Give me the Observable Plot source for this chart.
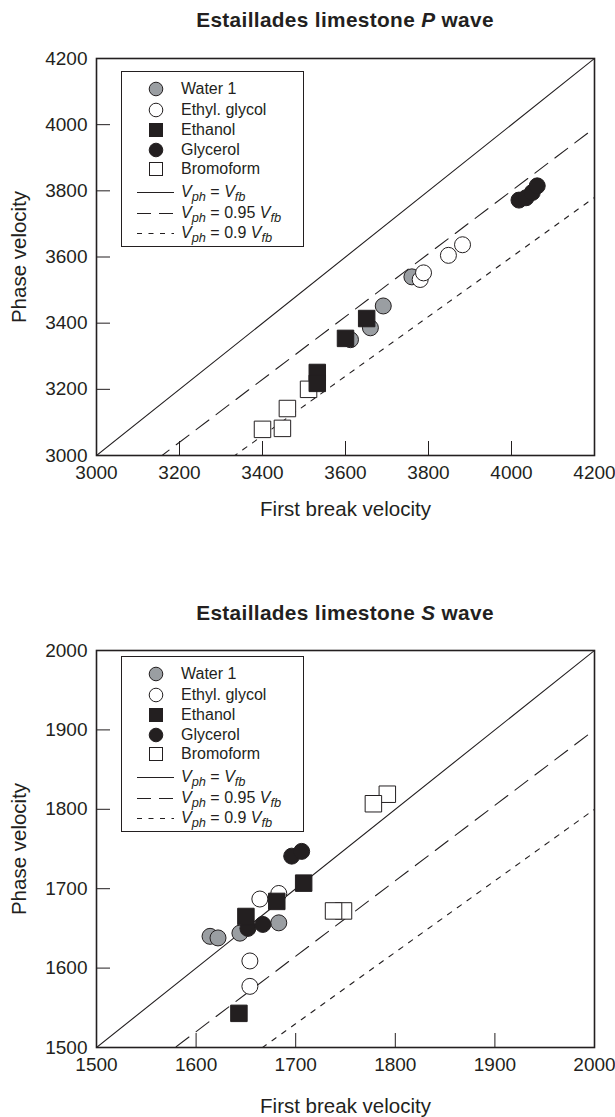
<!DOCTYPE html>
<html><head><meta charset="utf-8">
<script src="https://cdn.jsdelivr.net/npm/d3@7"></script>
<script src="https://cdn.jsdelivr.net/npm/@observablehq/plot@0.6"></script>
<style>
body{margin:0;background:#fff;font-family:"Liberation Sans",Arial,Helvetica,sans-serif;color:#231f20}
#wrap{position:relative;width:615px;height:1117px;overflow:hidden;background:#fff}
.title{position:absolute;left:96px;width:498px;text-align:center;font-weight:bold;font-size:20.8px;letter-spacing:0.35px;line-height:24px;white-space:nowrap}
.chart{position:absolute;left:0;overflow:visible}
.legend{position:absolute;left:121px;width:183px;height:176px;border:1.3px solid #231f20;background:#fff;box-sizing:border-box;font-size:16px}
.row{position:absolute;left:0;width:180px;height:20px}
.row svg{position:absolute;left:0;top:0}
.row span{position:absolute;left:59px;top:0;line-height:20px;white-space:nowrap}
.row sub{font-size:0.8em;vertical-align:-0.3em;line-height:0}
</style></head>
<body><div id="wrap"></div>
<script>
// ---- data ----
const pTicks = [3000, 3200, 3400, 3600, 3800, 4000, 4200];
const sTicks = [1500, 1600, 1700, 1800, 1900, 2000];
const fluids = ["Water 1", "Ethyl. glycol", "Ethanol", "Glycerol", "Bromoform"];
// P wave [first break velocity, phase velocity]
const pWater1 = [[3612, 3350], [3660, 3386], [3691, 3452], [3760, 3540]];
const pEthylGlycol = [[3780, 3532], [3788, 3552], [3848, 3605], [3882, 3637]];
const pEthanol = [[3651, 3414], [3600, 3354], [3532, 3251], [3532, 3218]];
const pGlycerol = [[4018, 3772], [4035, 3779], [4050, 3795], [4062, 3815]];
const pBromoform = [[3511, 3200], [3460, 3142], [3400, 3079], [3448, 3082]];
// S wave
const sWater1 = [[1614, 1640], [1622, 1638], [1644, 1644], [1683, 1657]];
const sEthylGlycol = [[1664, 1687], [1683, 1694], [1654, 1609], [1654, 1577]];
const sEthanol = [[1708, 1707], [1681, 1684], [1650, 1665], [1643, 1543]];
const sGlycerol = [[1696, 1741], [1706, 1747], [1652, 1650], [1667, 1655]];
const sBromoform = [[1792, 1819], [1778, 1807], [1748, 1672], [1738, 1672]];
const ratios = [1, 0.95, 0.9];

// ---- styles ----
const ink = "#231f20", gray = "#9a9ea2";
const fluidStyle = {
  "Water 1": {symbol: "circle", fill: gray},
  "Ethyl. glycol": {symbol: "circle", fill: "#fff"},
  "Ethanol": {symbol: "square", fill: ink},
  "Glycerol": {symbol: "circle", fill: ink},
  "Bromoform": {symbol: "square", fill: "#fff"}
};
const dashes = [null, "16,9", "5,7"];
const drawOrder = ["Water 1", "Ethyl. glycol", "Bromoform", "Glycerol", "Ethanol"];

const wrap = document.getElementById("wrap");

function addTitle(top, letter) {
  const d = document.createElement("div");
  d.className = "title";
  d.style.top = top + "px";
  d.innerHTML = `Estaillades limestone <i>${letter}</i> wave`;
  wrap.appendChild(d);
}

function addChart({top, domain, ticks, data, mb, xLabelOff}) {
  const marks = [];
  ratios.forEach((k, i) => {
    const pts = domain.map(v => ({x: v, y: k * v}));
    marks.push(Plot.line(pts, {x: "x", y: "y", stroke: ink, strokeWidth: 1.1, strokeDasharray: dashes[i], clip: true}));
  });
  drawOrder.forEach(f => {
    const st = fluidStyle[f];
    marks.push(Plot.dot(data[f], {x: d => d[0], y: d => d[1], symbol: st.symbol, r: st.symbol === "square" ? 9.3 : 8, fill: st.fill, stroke: ink, strokeWidth: 1}));
  });
  marks.push(Plot.frame({stroke: ink, strokeWidth: 1.6}));
  marks.push(Plot.axisX({ticks, tickSize: -14, tickPadding: 24, fontSize: 19, stroke: ink, fill: ink, tickFormat: d => String(d), label: null}));
  marks.push(Plot.axisY({ticks, tickSize: -14, tickPadding: 23, fontSize: 19, stroke: ink, fill: ink, tickFormat: d => String(d), label: null}));
  marks.push(Plot.axisX({ticks: [], fontSize: 20.5, fill: ink,
    label: "First break velocity", labelAnchor: "center", labelOffset: xLabelOff, labelArrow: "none"}));
  marks.push(Plot.axisY({ticks: [], fontSize: 20.5, fill: ink,
    label: "Phase velocity", labelAnchor: "center", labelOffset: 85, labelArrow: "none"}));
  const svg = Plot.plot({
    width: 615, height: 18 + 397 + mb,
    marginTop: 18, marginLeft: 96, marginRight: 21, marginBottom: mb,
    style: {fontFamily: '"Liberation Sans", Arial, Helvetica, sans-serif', color: ink, background: "transparent", fontSize: "20.5px"},
    x: {domain}, y: {domain},
    marks
  });
  svg.classList.add("chart");
  svg.style.top = top + "px";
  wrap.appendChild(svg);
}

function addLegend(top) {
  const box = document.createElement("div");
  box.className = "legend";
  box.style.top = top + "px";
  const rowsY = [17, 38, 58, 78, 97, 120, 141, 161];
  fluids.forEach((f, i) => {
    const st = fluidStyle[f];
    const r = document.createElement("div");
    r.className = "row";
    r.style.top = (rowsY[i] - 10) + "px";
    const sym = st.symbol === "circle"
      ? `<circle cx="34" cy="10" r="6.8" fill="${st.fill}" stroke="${ink}" stroke-width="1"/>`
      : `<rect x="27.5" y="3.5" width="13" height="13" fill="${st.fill}" stroke="${ink}" stroke-width="1"/>`;
    r.innerHTML = `<svg width="60" height="20">${sym}</svg><span>${f}</span>`;
    box.appendChild(r);
  });
  ratios.forEach((k, i) => {
    const r = document.createElement("div");
    r.className = "row";
    r.style.top = (rowsY[5 + i] - 10) + "px";
    const da = i === 1 ? ' stroke-dasharray="14,8"' : i === 2 ? ' stroke-dasharray="5,6.5"' : "";
    r.innerHTML = `<svg width="60" height="20"><line x1="15" x2="52" y1="10.5" y2="10.5" stroke="${ink}" stroke-width="1.1"${da}/></svg><span><i>V<sub>ph</sub></i>${i === 0 ? " = " : i === 1 ? " = 0.95 " : " = 0.9 "}<i>V<sub>fb</sub></i></span>`;
    box.appendChild(r);
  });
  wrap.appendChild(box);
}

addTitle(8, "P");
addChart({top: 40, domain: [3000, 4200], ticks: pTicks, mb: 75, xLabelOff: 60,
  data: {"Water 1": pWater1, "Ethyl. glycol": pEthylGlycol, "Ethanol": pEthanol, "Glycerol": pGlycerol, "Bromoform": pBromoform}});
addLegend(71);
addTitle(601, "S");
addChart({top: 632, domain: [1500, 2000], ticks: sTicks, mb: 71, xLabelOff: 65,
  data: {"Water 1": sWater1, "Ethyl. glycol": sEthylGlycol, "Ethanol": sEthanol, "Glycerol": sGlycerol, "Bromoform": sBromoform}});
addLegend(656);
</script></body></html>
